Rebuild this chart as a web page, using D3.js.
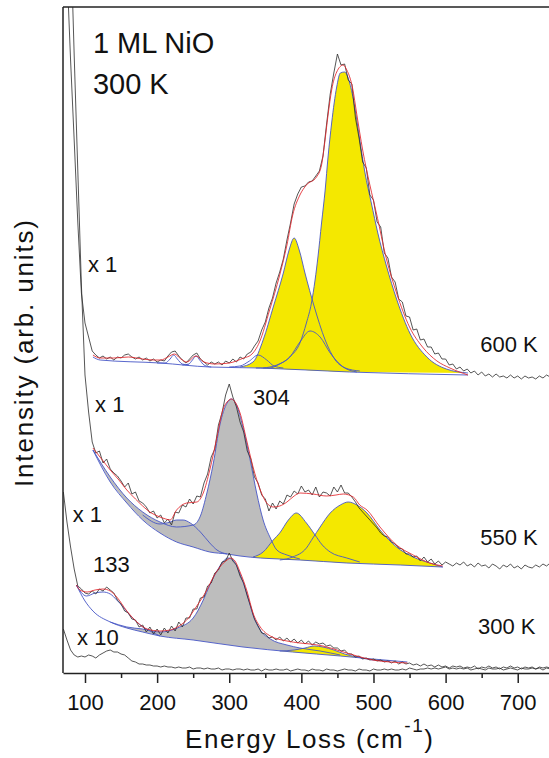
<!DOCTYPE html>
<html lang="en">
<head>
<meta charset="UTF-8">
<title>1 ML NiO - Raman spectra</title>
<style>
  body { margin: 0; background: #fff; }
  svg text { font-family: "Liberation Sans", Arial, Helvetica, sans-serif; fill: #111; }
</style>
</head>
<body>
<svg id="chart" width="549" height="758"></svg>
<script src="https://cdn.jsdelivr.net/npm/d3@7"></script>
<script>
// raw spectra are sampled on a 5 cm-1 grid, 70 .. 745
var energy = d3.range(70, 750, 5);

var raw600 = [
  793, 703, 613, 533, 451, 380, 350, 336, 322, 318,
  315, 317, 314, 316, 313, 316, 315, 318, 319, 316,
  314, 316, 313, 315, 312, 314, 311, 313, 312, 317,
  321, 322, 317, 313, 310, 314, 318, 320, 314, 311,
  308, 311, 309, 311, 308, 312, 310, 314, 311, 316,
  314, 319, 321, 327, 332, 343, 351, 365, 375, 390,
  401, 414, 433, 450, 469, 479, 486, 487, 491, 492,
  497, 502, 517, 549, 579, 600, 619, 608, 609, 593,
  589, 555, 535, 511, 505, 478, 473, 451, 446, 420,
  415, 396, 391, 374, 371, 357, 356, 343, 344, 333,
  334, 326, 326, 319, 320, 314, 314, 308, 309, 304,
  306, 302, 304, 300, 302, 298, 301, 297, 299, 296,
  299, 296, 297, 295, 298, 295, 297, 294, 297, 295,
  296, 294, 297, 295, 298, 296
];
var raw550 = [
  970, 858, 743, 618, 503, 388, 298, 261, 231, 220,
  222, 210, 214, 204, 200, 197, 192, 186, 190, 179,
  181, 172, 170, 166, 160, 162, 155, 158, 150, 154,
  148, 161, 160, 168, 166, 174, 169, 177, 176, 190,
  199, 216, 224, 248, 260, 278, 289, 276, 266, 251,
  241, 222, 214, 196, 190, 178, 174, 162, 170, 164,
  172, 169, 178, 176, 182, 179, 187, 181, 183, 178,
  186, 176, 181, 180, 177, 186, 181, 188, 180, 180,
  176, 171, 165, 161, 157, 153, 149, 145, 140, 137,
  136, 131, 129, 125, 124, 119, 119, 116, 117, 112,
  116, 111, 114, 109, 112, 108, 111, 109, 107, 110,
  108, 111, 107, 109, 106, 110, 107, 108, 105, 109,
  107, 104, 108, 106, 109, 105, 107, 104, 108, 106,
  105, 108, 106, 109, 107, 110
];
var raw300 = [
  181, 151, 126, 104, 87, 84, 80, 79, 82, 79,
  84, 82, 86, 83, 80, 73, 69, 62, 60, 54,
  53, 46, 48, 41, 46, 39, 44, 38, 45, 40,
  47, 42, 51, 46, 55, 55, 64, 64, 75, 76,
  87, 90, 100, 103, 111, 112, 120, 112, 108, 97,
  90, 77, 66, 54, 47, 40, 39, 35, 36, 33,
  36, 32, 35, 31, 34, 30, 33, 29, 32, 28,
  31, 29, 30, 27, 28, 25, 25, 22, 23, 19,
  19, 16, 17, 14, 15, 13, 14, 12, 13, 11,
  12, 10, 12, 9, 11, 9, 10, 8, 9, 7,
  9, 7, 8, 6, 8, 6, 7, 5, 7, 6,
  7, 5, 6, 5, 7, 4, 6, 5, 7, 5,
  6, 4, 6, 5, 7, 5, 6, 4, 6, 5,
  6, 4, 6, 5, 6, 5
];
var raw300x10 = [
  44, 33, 23, 18, 16, 17, 16, 18, 17, 15,
  18, 20, 22, 23, 21, 21, 19, 18, 15, 12,
  11, 9, 9, 8, 8, 7, 7, 6, 7, 6,
  6, 5, 6, 5, 5, 6, 4, 5, 5, 4,
  5, 4, 4, 5, 3, 4, 4, 3, 4, 4,
  3, 4, 3, 3, 4, 2, 4, 3, 3, 4,
  3, 3, 4, 2, 3, 4, 3, 3, 2, 4,
  3, 3, 2, 4, 3, 3, 2, 3, 4, 3,
  3, 2, 4, 3, 3, 2, 4, 3, 3, 4,
  3, 4, 3, 3, 4, 3, 5, 4, 3, 4,
  4, 5, 4, 5, 4, 5, 6, 4, 5, 4,
  5, 4, 5, 3, 4, 5, 4, 3, 5, 4,
  4, 5, 3, 4, 5, 4, 3, 5, 4, 4,
  5, 4, 5, 3, 5, 4
];

// fits, backgrounds and fitted components: [energy, intensity]
var fit600 = [[111, 318], [121, 315], [140, 315], [160, 316], [180, 314], [195, 313], [205, 313], [215, 316], [224, 319], [233, 314], [241, 311], [254, 317], [265, 311], [280, 309], [300, 310], [320, 315], [330, 318], [342, 331], [356, 363], [370, 398], [380, 428], [388, 458], [398, 478], [407, 488], [421, 496], [428, 508], [432, 528], [437, 558], [442, 583], [449, 601], [458, 608], [463, 603], [471, 585], [477, 558], [485, 523], [495, 488], [504, 460], [518, 414], [532, 380], [550, 346], [568, 326], [588, 312], [606, 305], [631, 298]];
var base600 = [[111, 316], [121, 313], [204, 310], [273, 306], [343, 305], [467, 301], [631, 298]];
var small600a = [[200, 310], [211, 310], [218, 314], [223, 318], [228, 314], [235, 309], [244, 308]];
var small600b = [[235, 308], [244, 309], [249, 313], [254, 317], [259, 313], [265, 308], [275, 306]];
var small600c = [[300, 306], [315, 307], [328, 312], [340, 318], [352, 313], [362, 307], [375, 305]];
var peak600a = [[315, 306], [333, 311], [347, 333], [361, 366], [375, 400], [383, 423], [390, 435], [397, 423], [405, 400], [418, 366], [433, 333], [447, 313], [461, 305], [481, 302]];
var peak600b = [[337, 305], [356, 305], [370, 309], [384, 316], [398, 331], [412, 342], [426, 336], [440, 320], [458, 306], [477, 301]];
var peak600c = [[347, 305], [366, 308], [384, 316], [398, 330], [407, 350], [414, 370], [419, 393], [423, 416], [428, 450], [433, 483], [437, 516], [442, 550], [449, 586], [454, 600], [460, 601], [467, 590], [474, 566], [481, 533], [488, 501], [497, 470], [506, 440], [518, 407], [532, 374], [551, 339], [574, 316], [601, 304], [631, 300]];

var fit550 = [[111, 225], [123, 214], [135, 203], [147, 193], [158, 183], [170, 174], [180, 167], [192, 160], [204, 156], [212, 154], [218, 153], [227, 163], [241, 170], [255, 171], [264, 180], [273, 203], [283, 236], [291, 263], [297, 271], [303, 274], [309, 270], [315, 260], [324, 233], [333, 206], [343, 183], [352, 170], [361, 166], [370, 167], [380, 171], [390, 177], [398, 180], [416, 179], [435, 177], [448, 178], [458, 179], [472, 176], [481, 168], [491, 163], [509, 146], [532, 128], [555, 118], [578, 110], [596, 107]];
var base550 = [[111, 223], [135, 191], [158, 170], [180, 153], [204, 140], [227, 131], [250, 126], [273, 121], [297, 119], [315, 117], [343, 115], [370, 114], [398, 113], [463, 110], [537, 108], [596, 106]];
var peak550 = [[111, 223], [135, 196], [158, 175], [180, 161], [204, 151], [227, 146], [250, 148], [260, 157], [269, 180], [278, 210], [287, 248], [297, 270], [303, 274], [310, 268], [319, 246], [329, 213], [338, 180], [347, 153], [357, 135], [366, 123], [380, 118], [398, 114]];
var small550 = [[180, 158], [204, 149], [218, 151], [227, 153], [236, 153], [246, 150], [260, 141], [273, 130], [283, 123], [297, 119]];
var peak550a = [[333, 116], [347, 121], [361, 133], [370, 140], [382, 153], [393, 160], [407, 150], [419, 138], [429, 128], [440, 121], [463, 115], [481, 111]];
var peak550b = [[370, 113], [388, 116], [407, 125], [416, 135], [426, 146], [440, 160], [454, 168], [465, 171], [477, 168], [491, 160], [509, 143], [532, 126], [555, 116], [578, 110], [596, 106]];

var fit300 = [[88, 88], [93, 83], [103, 81], [114, 83], [125, 84], [135, 82], [144, 76], [158, 62], [172, 51], [186, 44], [204, 42], [218, 43], [228, 46], [241, 53], [255, 67], [269, 83], [278, 96], [287, 106], [297, 113], [302, 115], [308, 112], [315, 101], [325, 81], [333, 60], [343, 46], [357, 37], [380, 32], [398, 30], [412, 29], [430, 27], [454, 22], [477, 17], [499, 13], [523, 11], [547, 10]];
var base300 = [[88, 88], [100, 72], [111, 62], [135, 51], [158, 45], [180, 41], [204, 37], [250, 33], [319, 26], [388, 21], [454, 17], [499, 14], [547, 11]];
var peak300a = [[88, 88], [102, 77], [114, 80], [125, 81], [135, 79], [144, 73], [153, 66], [162, 58], [172, 51], [180, 46], [190, 42], [204, 37]];
var peak300b = [[135, 51], [158, 46], [180, 44], [204, 41], [228, 45], [250, 55], [264, 73], [273, 88], [283, 102], [291, 111], [298, 115], [305, 113], [315, 99], [325, 78], [333, 58], [343, 43], [357, 34], [380, 28], [398, 25], [426, 22], [454, 18]];
var peak300c = [[370, 22], [390, 23], [405, 25], [418, 27], [430, 26], [445, 23], [460, 19], [477, 16], [499, 13], [523, 12]];

var majorTicks = [100, 200, 300, 400, 500, 600, 700];
var minorTicks = [150, 250, 350, 450, 550, 650, 750];

var titleLines = [["1 ML NiO", 111, 620], ["300 K", 111, 579]];
var notes = [
  ["x 1", 104, 401], ["600 K", 648, 321], ["x 1", 114, 261], ["304", 333, 268],
  ["x 1", 83, 151], ["550 K", 648, 128], ["133", 111, 101], ["300 K", 645, 39], ["x 10", 89, 28]
];

var yellow = "#f4e800", grey = "#bdbdbd", blue = "#4656c6", red = "#e3262b", black = "#2b2b2b";

var svg = d3.select("#chart");
var x = d3.scaleLinear().domain([69.5, 760]).range([63, 561]);
var y = d3.scaleLinear().domain([0, 666]).range([673, 7]);

svg.append("clipPath").attr("id", "plot")
  .append("rect").attr("x", 63).attr("y", 7).attr("width", 500).attr("height", 666);

var plot = svg.append("g").attr("clip-path", "url(#plot)");

var straight = d3.line().x(function(d) { return x(d[0]); }).y(function(d) { return y(d[1]); });
var smooth = d3.line().x(function(d) { return x(d[0]); }).y(function(d) { return y(d[1]); })
  .curve(d3.curveMonotoneX);

function zip(vals) {
  return energy.map(function(e, i) { return [e, vals[i]]; });
}

// area between a component and its (curved) background
function fillPath(top, base) {
  var x0 = top[0][0], x1 = top[top.length - 1][0];
  var bot = base.filter(function(d) { return d[0] > x0 && d[0] < x1; }).reverse();
  var p = smooth(top);
  bot.forEach(function(d) { p += "L" + x(d[0]) + "," + y(d[1]); });
  return p + "Z";
}

var fills = [
  [peak550, base550, grey], [small550, base550, grey], [peak300b, base300, grey],
  [peak600a, base600, yellow], [peak600b, base600, yellow], [peak600c, base600, yellow],
  [peak550a, base550, yellow], [peak550b, base550, yellow], [peak300c, base300, yellow]
];
plot.selectAll("path.fill").data(fills).enter().append("path")
  .attr("class", "fill")
  .attr("d", function(d) { return fillPath(d[0], d[1]); })
  .attr("fill", function(d) { return d[2]; })
  .attr("stroke", "none");

var comps = [base600, small600a, small600b, small600c, peak600a, peak600b, peak600c,
  base550, peak550, small550, peak550a, peak550b,
  base300, peak300a, peak300b, peak300c];
plot.selectAll("path.comp").data(comps).enter().append("path")
  .attr("class", "comp")
  .attr("d", smooth)
  .attr("fill", "none").attr("stroke", blue).attr("stroke-width", 0.9);

var raws = [raw600, raw550, raw300, raw300x10];
plot.selectAll("path.raw").data(raws).enter().append("path")
  .attr("class", "raw")
  .attr("d", function(d) { return straight(zip(d)); })
  .attr("fill", "none").attr("stroke", black).attr("stroke-width", 0.8);

plot.selectAll("path.fit").data([fit600, fit550, fit300]).enter().append("path")
  .attr("class", "fit")
  .attr("d", smooth)
  .attr("fill", "none").attr("stroke", red).attr("stroke-width", 1)
  .attr("stroke-opacity", 0.85);

// frame
svg.append("line").attr("x1", 63).attr("x2", 63).attr("y1", 7).attr("y2", 673)
  .attr("stroke", "#222").attr("stroke-width", 1.5);
svg.append("line").attr("x1", 63).attr("x2", 561).attr("y1", 7).attr("y2", 7)
  .attr("stroke", "#222").attr("stroke-width", 1.5);

var gx = svg.append("g").attr("transform", "translate(0,673)")
  .call(d3.axisBottom(x).tickValues(majorTicks).tickSize(10).tickSizeOuter(0).tickPadding(11));
gx.select(".domain").attr("stroke", "#222").attr("stroke-width", 1.5);
gx.selectAll(".tick line").attr("stroke", "#222").attr("stroke-width", 1.5);
gx.selectAll(".tick text").style("font-size", "22px").attr("fill", "#111")
  .style("font-family", "'Liberation Sans', Arial, sans-serif");

var gm = svg.append("g").attr("transform", "translate(0,673)")
  .call(d3.axisBottom(x).tickValues(minorTicks).tickSize(5).tickFormat(""));
gm.select(".domain").remove();
gm.selectAll(".tick line").attr("stroke", "#222").attr("stroke-width", 1.5);

var xt = svg.append("text").attr("x", 309).attr("y", 748).attr("text-anchor", "middle")
  .style("font-size", "26px").attr("textLength", 248).attr("lengthAdjust", "spacing");
xt.append("tspan").text("Energy Loss (cm");
xt.append("tspan").attr("dy", -16).style("font-size", "19px").text("-1");
xt.append("tspan").attr("dy", 16).text(")");

svg.append("text").attr("transform", "translate(33,353.5) rotate(-90)")
  .attr("text-anchor", "middle").style("font-size", "26px")
  .attr("textLength", 267).attr("lengthAdjust", "spacing")
  .text("Intensity (arb. units)");

svg.selectAll("text.title").data(titleLines).enter().append("text")
  .attr("class", "title")
  .attr("x", function(d) { return x(d[1]); }).attr("y", function(d) { return y(d[2]); })
  .style("font-size", "29px").text(function(d) { return d[0]; });

svg.selectAll("text.note").data(notes).enter().append("text")
  .attr("class", "note")
  .attr("x", function(d) { return x(d[1]); }).attr("y", function(d) { return y(d[2]); })
  .style("font-size", "22px").text(function(d) { return d[0]; });
</script>
</body>
</html>
